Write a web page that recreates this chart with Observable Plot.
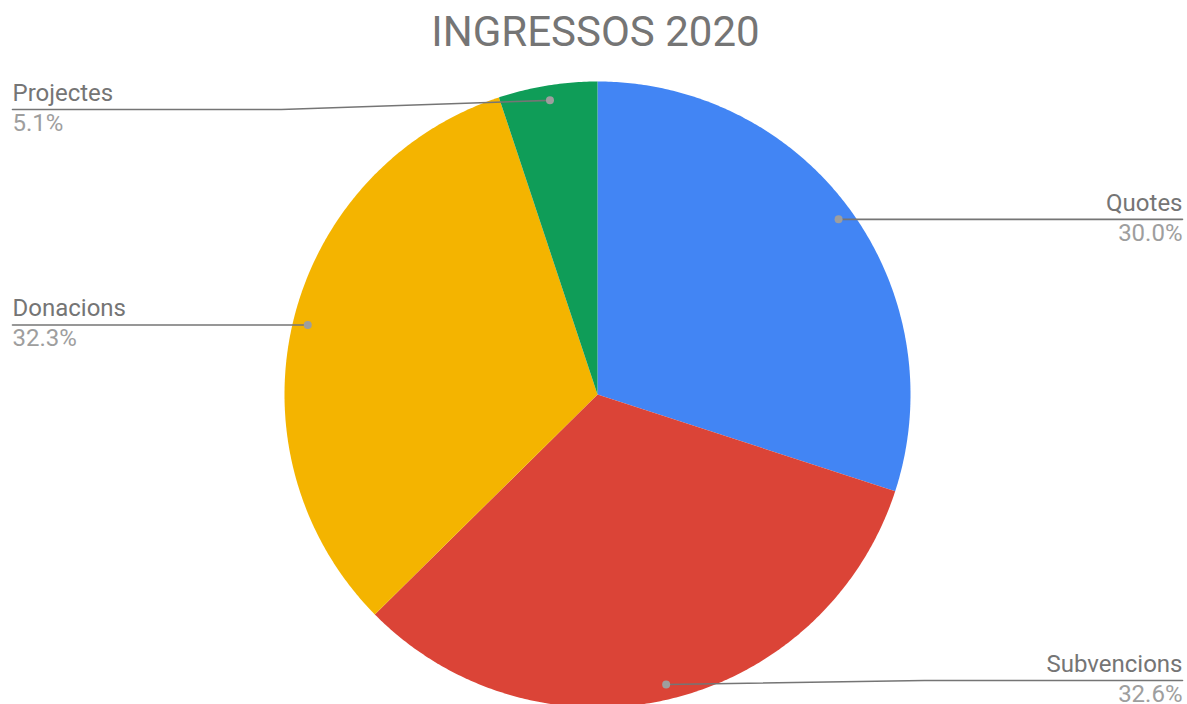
<!DOCTYPE html>
<html>
<head>
<meta charset="utf-8">
<script src="https://cdn.jsdelivr.net/npm/d3@7"></script>
<script src="https://cdn.jsdelivr.net/npm/@observablehq/plot@0.6"></script>
<style>
  html, body { margin: 0; padding: 0; background: #fff; }
  #title { height: 62px; line-height: 64px; font-family: Roboto, sans-serif; font-size: 42px; color: #757575; text-align: center; width: 1187px; padding-left: 4px; box-sizing: border-box; }
  #chart svg { display: block; }
</style>
</head>
<body>
<div id="title">INGRESSOS 2020</div>
<div id="chart"></div>
<script>
const categories = ["Quotes", "Subvencions", "Donacions", "Projectes"];
const values = [30.0, 32.6, 32.3, 5.1];
const colors = ["#4285F4", "#DB4437", "#F4B400", "#0F9D58"];
const percentLabels = ["30.0%", "32.6%", "32.3%", "5.1%"];

const W = 1187, H = 642;
const cx = 597, cy = 332, r = 313;
const total = d3.sum(values);

// slice geometry (clockwise from 12 o'clock)
let acc = 0;
const slices = categories.map((c, i) => {
  const a0 = acc / total * 2 * Math.PI;
  acc += values[i];
  const a1 = acc / total * 2 * Math.PI;
  const pts = [{x: cx, y: cy}];
  const n = Math.max(2, Math.ceil((a1 - a0) / (Math.PI / 360)));
  for (let k = 0; k <= n; k++) {
    const a = a0 + (a1 - a0) * k / n;
    pts.push({x: cx + r * Math.sin(a), y: cy - r * Math.cos(a)});
  }
  const am = (a0 + a1) / 2;
  return {c, i, pts, am};
});

const minY = 47, maxY = 618, leftX = 12, rightX = 1182;
const labels = slices.map(s => {
  const dx = cx + 0.952 * r * Math.sin(s.am);
  const dy = cy - 0.952 * r * Math.cos(s.am);
  const right = Math.sin(s.am) > 0;
  const ly = Math.min(maxY, Math.max(minY, dy));
  const ex = right ? rightX : leftX;
  const bx = (dx + ex) / 2;
  return {
    name: s.c, pct: percentLabels[s.i], right, dx, dy, ly, ex,
    path: [{x: dx, y: dy, k: s.c}, {x: bx, y: ly, k: s.c}, {x: ex, y: ly, k: s.c}]
  };
});

const marks = [];
slices.forEach(s => {
  marks.push(Plot.line(s.pts, {x: "x", y: "y", fill: colors[s.i], stroke: "none", curve: "linear-closed"}));
});
marks.push(Plot.line(labels.flatMap(l => l.path), {x: "x", y: "y", z: "k", stroke: "#757575", strokeWidth: 1.6}));
marks.push(Plot.dot(labels, {x: "dx", y: "dy", r: 4, fill: "#9e9e9e", stroke: "none"}));
for (const side of [true, false]) {
  const L = labels.filter(l => l.right === side);
  marks.push(Plot.text(L, {x: "ex", y: "ly", text: "name", textAnchor: side ? "end" : "start", lineAnchor: "middle", dy: -16.2, fill: "#757575", fontSize: 24}));
  marks.push(Plot.text(L, {x: "ex", y: "ly", text: "pct", textAnchor: side ? "end" : "start", lineAnchor: "middle", dy: 13.8, fill: "#9e9e9e", fontSize: 24}));
}

const chart = Plot.plot({
  width: W, height: H,
  margin: 0,
  style: {fontFamily: "Roboto, sans-serif", background: "#fff", overflow: "visible"},
  x: {type: "linear", domain: [0, W], range: [0, W], axis: null},
  y: {type: "linear", domain: [0, H], range: [0, H], axis: null},
  marks
});
document.getElementById("chart").appendChild(chart);
</script>
</body>
</html>
